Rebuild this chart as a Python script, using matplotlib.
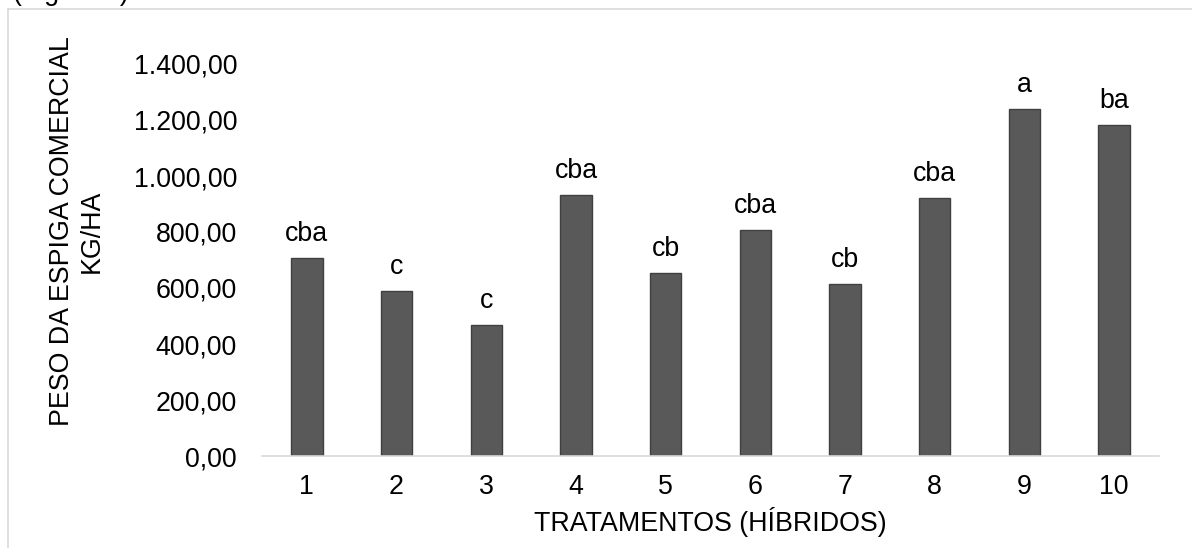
import matplotlib.pyplot as plt
from matplotlib.lines import Line2D

plt.rcParams['font.family'] = ['Liberation Sans', 'DejaVu Sans']

tratamentos = ['1', '2', '3', '4', '5', '6', '7', '8', '9', '10']
peso = [707, 589, 468, 932, 654, 807, 614, 921, 1239, 1182]
letras = ['cba', 'c', 'c', 'cba', 'cb', 'cba', 'cb', 'cba', 'a', 'ba']
yticks = [0, 200, 400, 600, 800, 1000, 1200, 1400]

fs = 19.3


def fmt_br(v):
    s = '{:,.2f}'.format(v)
    return s.replace(',', 'X').replace('.', ',').replace('X', '.')


fig = plt.figure(figsize=(11.92, 5.48), dpi=100)
ax = fig.add_axes([262 / 1192, 1 - 456 / 548, 897 / 1192, 392 / 548])

x = range(len(tratamentos))
bars = ax.bar(x, peso, width=0.35, color='#595959', edgecolor='#404040', linewidth=1)
for xi, v, l in zip(x, peso, letras):
    ax.text(xi, v + 38, l, ha='center', va='bottom', fontsize=fs)

ax.set_xlim(-0.5, len(tratamentos) - 0.5)
ax.set_ylim(0, 1400)
ax.set_xticks(list(x))
ax.set_xticklabels(tratamentos, fontsize=fs)
ax.set_yticks(yticks)
ax.set_yticklabels([fmt_br(v) for v in yticks], fontsize=fs)
ax.tick_params(axis='y', length=0, pad=18)
ax.tick_params(axis='x', length=0, pad=13)
for s in ['top', 'right', 'left']:
    ax.spines[s].set_visible(False)
ax.spines['bottom'].set_color('#d9d9d9')
ax.spines['bottom'].set_linewidth(1.2)

ax.set_xlabel('TRATAMENTOS (HÍBRIDOS)', fontsize=fs, labelpad=5)
fig.text(77 / 1192, 1 - 231 / 548, 'PESO DA ESPIGA COMERCIAL\nKG/HA', rotation=90,
         ha='center', va='center', fontsize=fs, linespacing=1.15)

# borda do grafico e titulo cortado
fig.add_artist(Line2D([8 / 1192, 1], [1 - 9 / 548, 1 - 9 / 548], color='#d9d9d9', lw=1.2))
fig.add_artist(Line2D([8 / 1192, 8 / 1192], [0, 1 - 9 / 548], color='#d9d9d9', lw=1.2))
fig.text(13 / 1192, 1.0, '(Figura 1)', ha='left', va='baseline', fontsize=fs)

fig.savefig('out.png', dpi=100)
